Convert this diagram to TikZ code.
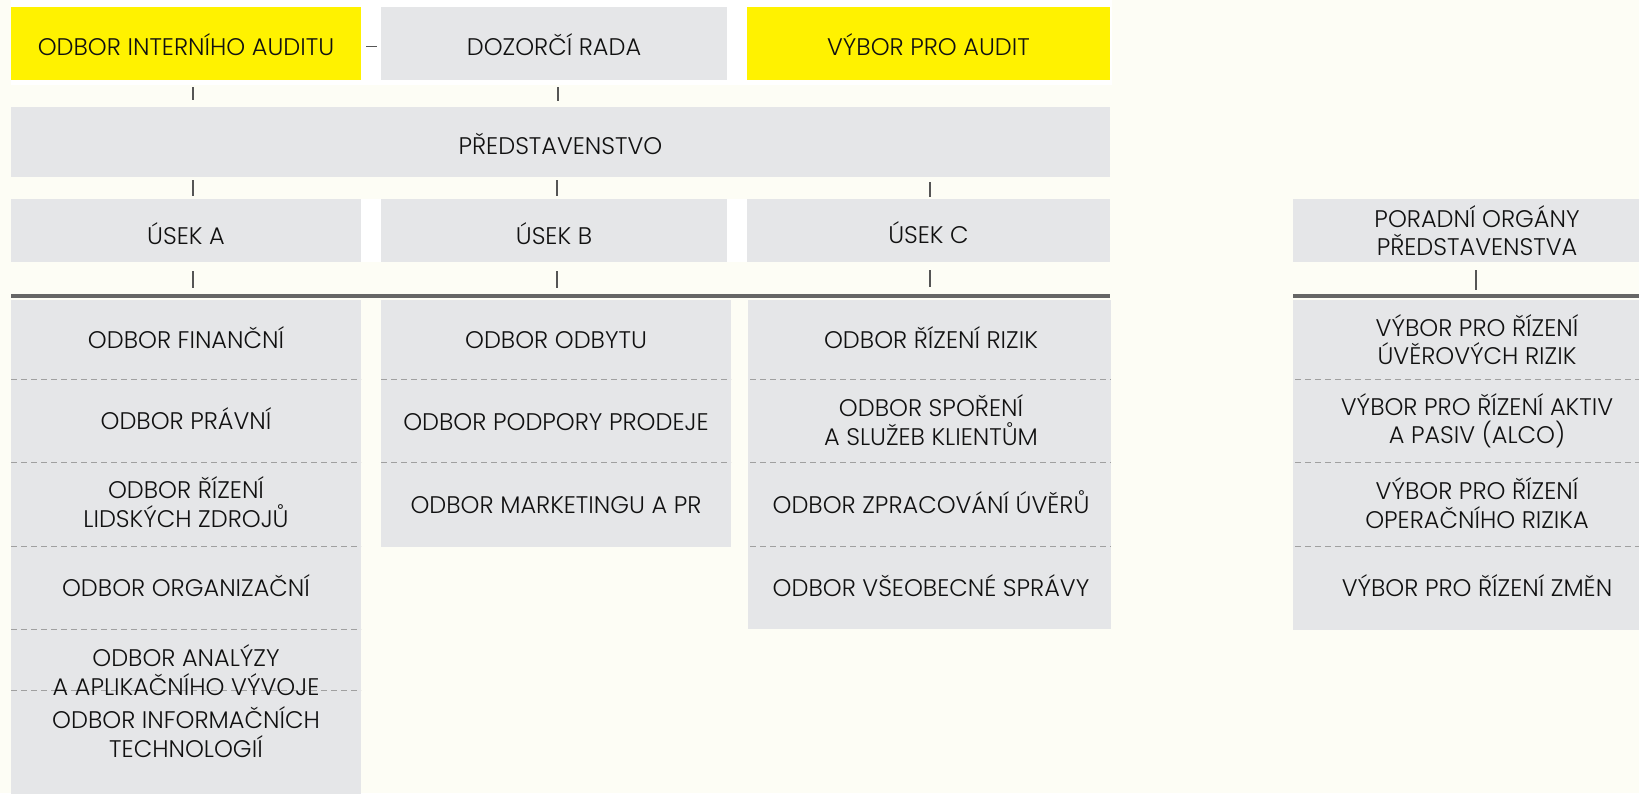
\documentclass[tikz,border=0pt]{standalone}
\usepackage{fontspec}
\setmainfont{Poppins}[UprightFont=* Light]
\definecolor{paper}{HTML}{FDFDF5}
\definecolor{panel}{HTML}{E5E6E8}
\definecolor{audit}{HTML}{FFF200}
\definecolor{rule}{HTML}{666666}
\definecolor{stub}{HTML}{555555}
\definecolor{sepline}{HTML}{A0A0A0}
\definecolor{ink}{HTML}{111111}
\tikzset{
  box/.style={inner sep=0pt, outer sep=0pt, align=center, text=ink},
  greybox/.style={box, fill=panel},
  yellowbox/.style={box, fill=audit},
  oneline/.style={text height=#1, text depth=0pt},
  oneline/.default=17pt,
  label/.style={box, text=ink},
  stubline/.style={draw=stub, line width=1.3pt},
  barline/.style={draw=rule, line width=4.5pt},
  sepdash/.style={draw=sepline, line width=0.9pt, dash pattern=on 6pt off 4pt},
}
\begin{document}
\begin{tikzpicture}[x=1pt, y=-1pt, font=\fontsize{24}{28.5}\selectfont]
\useasboundingbox (0,0) rectangle (1639,793);
\clip (0,0) rectangle (1639,793);
% page and white backings behind the upper rows
\fill[paper] (0,0) rectangle (1639,793);
\fill[white] (11,0) rectangle (1112,85);
\fill[white] (11,199) rectangle (1110,262);

% top row
\node[yellowbox, oneline=23pt, minimum width=350pt, minimum height=73pt] (audit) at (186,43.5) {ODBOR INTERNÍHO AUDITU};
\node[greybox, oneline=23pt, minimum width=346pt, minimum height=73pt] (board) at (554,43.5) {DOZORČÍ RADA};
\node[yellowbox, oneline=23pt, minimum width=363pt, minimum height=73pt] (auditcom) at (928.5,43.5) {VÝBOR PRO AUDIT};

% management board
\node[greybox, oneline=25pt, minimum width=1099pt, minimum height=70pt] (mgmt) at (560.5,142) {PŘEDSTAVENSTVO};

% divisions
\node[greybox, oneline=27pt, minimum width=350pt, minimum height=63pt] (usekA) at (186,230.5) {ÚSEK A};
\node[greybox, oneline=27pt, minimum width=346pt, minimum height=63pt] (usekB) at (554,230.5) {ÚSEK B};
\node[greybox, oneline=25pt, minimum width=363pt, minimum height=63pt] (usekC) at (928.5,230.5) {ÚSEK C};
\node[greybox, minimum width=368pt, minimum height=63pt] (advisory) at (1477,230.5) {PORADNÍ ORGÁNY\\PŘEDSTAVENSTVA};

% heavy bars above the department lists
\draw[barline] (11,296) -- (1110,296);
\draw[barline] (1293,296) -- (1639,296);

% department panels
\node[greybox, minimum width=350pt, minimum height=520pt, anchor=north west] (colA) at (11,300) {};
\node[greybox, minimum width=350pt, minimum height=247pt, anchor=north west] (colB) at (381,300) {};
\node[greybox, minimum width=363pt, minimum height=329pt, anchor=north west] (colC) at (748,300) {};
\node[greybox, minimum width=368pt, minimum height=330pt, anchor=north west] (colR) at (1293,300) {};

% dashed separators
\foreach \y in {379,462,546,629,690} \draw[sepdash] (11,\y) -- (361,\y);
\foreach \y in {379,462} \draw[sepdash] (381,\y) -- (731,\y);
\foreach \y in {379,462,546} \draw[sepdash] (750,\y) -- (1111,\y);
\foreach \y in {379,462,546} \draw[sepdash] (1295,\y) -- (1639,\y);

% column A
\node[label, oneline] (a1) at (186,339.5) {ODBOR FINANČNÍ};
\node[label, oneline] (a2) at (186,420.5) {ODBOR PRÁVNÍ};
\node[label] (a3) at (186,502) {ODBOR ŘÍZENÍ\\LIDSKÝCH ZDROJŮ};
\node[label, oneline] (a4) at (186,587.5) {ODBOR ORGANIZAČNÍ};
\node[label] (a5) at (186,670) {ODBOR ANALÝZY\\A APLIKAČNÍHO VÝVOJE};
\node[label] (a6) at (186,732) {ODBOR INFORMAČNÍCH\\TECHNOLOGIÍ};

% column B
\node[label, oneline] (b1) at (556,339.5) {ODBOR ODBYTU};
\node[label, oneline] (b2) at (556,422) {ODBOR PODPORY PRODEJE};
\node[label, oneline] (b3) at (556,505) {ODBOR MARKETINGU A PR};

% column C
\node[label, oneline] (c1) at (931,339.5) {ODBOR ŘÍZENÍ RIZIK};
\node[label] (c2) at (931,420) {ODBOR SPOŘENÍ\\A SLUŽEB KLIENTŮM};
\node[label, oneline] (c3) at (931,505) {ODBOR ZPRACOVÁNÍ ÚVĚRŮ};
\node[label, oneline] (c4) at (931,587.5) {ODBOR VŠEOBECNÉ SPRÁVY};

% advisory committees
\node[label] (r1) at (1477,339.5) {VÝBOR PRO ŘÍZENÍ\\ÚVĚROVÝCH RIZIK};
\node[label] (r2) at (1477,421) {VÝBOR PRO ŘÍZENÍ AKTIV\\A PASIV (ALCO)};
\node[label] (r3) at (1477,503) {VÝBOR PRO ŘÍZENÍ\\OPERAČNÍHO RIZIKA};
\node[label, oneline] (r4) at (1477,587.5) {VÝBOR PRO ŘÍZENÍ ZMĚN};

% connector stubs
\draw[stubline] (audit.east) ++(5,3) -- ++(11,0);
\draw[stubline] (audit.south) ++(7,7) -- ++(0,13);
\draw[stubline] (board.south) ++(4,7) -- ++(0,14);
\draw[stubline] (usekA.north) ++(7,-19) -- ++(0,16);
\draw[stubline] (usekB.north) ++(3,-19) -- ++(0,16);
\draw[stubline] (usekC.north) ++(1.5,-17) -- ++(0,15);
\draw[stubline] (usekA.south) ++(7,9) -- ++(0,17);
\draw[stubline] (usekB.south) ++(3,9) -- ++(0,17);
\draw[stubline] (usekC.south) ++(1.5,8) -- ++(0,17);
\draw[stubline] (advisory.south) ++(-1,8) -- ++(0,20);
\end{tikzpicture}
\end{document}
